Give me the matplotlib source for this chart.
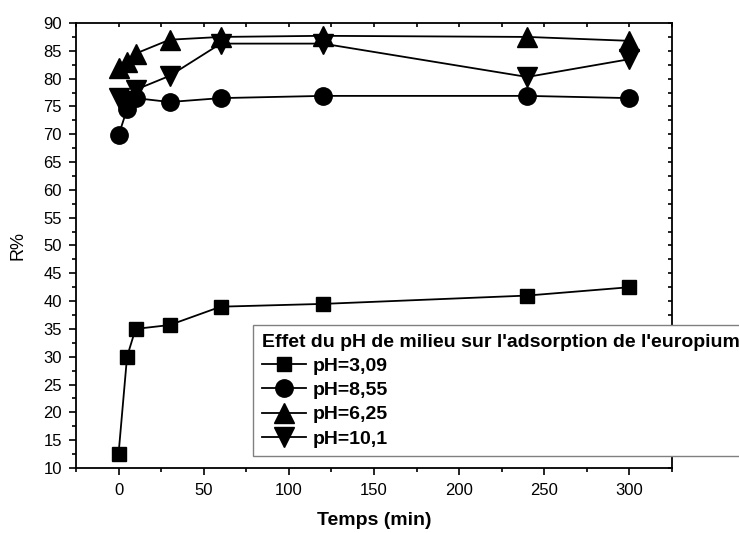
import matplotlib.pyplot as plt
from matplotlib.ticker import MultipleLocator

plt.rcParams['font.family'] = ['Liberation Sans', 'DejaVu Sans']

# time (min) and R% for each pH
temps = [0, 5, 10, 30, 60, 120, 240, 300]
r_ph309 = [12.5, 30.0, 35.0, 35.7, 39.0, 39.5, 41.0, 42.5]
r_ph855 = [69.8, 74.5, 76.5, 75.8, 76.5, 76.9, 76.9, 76.5]
r_ph625 = [82.0, 83.0, 84.5, 87.0, 87.5, 87.7, 87.5, 86.8]
r_ph101 = [76.5, 76.0, 78.0, 80.5, 86.3, 86.3, 80.3, 83.5]

labels = ['pH=3,09', 'pH=8,55', 'pH=6,25', 'pH=10,1']
markers = ['s', 'o', '^', 'v']
msizes = [10.5, 12.5, 15, 15]

fig = plt.figure(figsize=(7.39, 5.33), dpi=100)
ax = fig.add_axes([0.1028, 0.122, 0.8065, 0.8348])

for vals, lab, m, ms in zip([r_ph309, r_ph855, r_ph625, r_ph101], labels, markers, msizes):
    ax.plot(temps, vals, color='black', lw=1.3, marker=m, markersize=ms, label=lab)

ax.set_xlim(-25, 325)
ax.set_ylim(10, 90)
ax.xaxis.set_major_locator(MultipleLocator(50))
ax.xaxis.set_minor_locator(MultipleLocator(25))
ax.yaxis.set_major_locator(MultipleLocator(5))
ax.yaxis.set_minor_locator(MultipleLocator(2.5))

ax.tick_params(which='both', top=True, right=True, labelsize=12, width=1.2)
ax.tick_params(which='major', direction='out', length=5, pad=5)
ax.tick_params(which='minor', direction='out', length=3)
ax.tick_params(axis='x', which='major', pad=6)
for s in ax.spines.values():
    s.set_linewidth(1.3)

# top/right ticks point inward (short)
for t in ax.xaxis.get_major_ticks() + ax.xaxis.get_minor_ticks():
    t.tick2line.set_marker(3)
    t.tick2line.set_markersize(3)
for t in ax.yaxis.get_major_ticks() + ax.yaxis.get_minor_ticks():
    t.tick2line.set_marker(0)
    t.tick2line.set_markersize(3)

ax.set_xlabel('Temps (min)', fontsize=14, fontweight='bold', labelpad=10)
ax.set_ylabel('R%', fontsize=13, labelpad=12)

leg = fig.legend(loc='upper left', bbox_to_anchor=(253 / 739, 1 - 325 / 533),
                 title="Effet du pH de milieu sur l'adsorption de l'europium",
                 prop={'weight': 'bold', 'size': 14}, fancybox=False,
                 edgecolor='gray', framealpha=1, handlelength=2.3, numpoints=1,
                 borderpad=0.45, labelspacing=0.34, handletextpad=0.3,
                 borderaxespad=0)
leg.get_title().set_fontweight('bold')
leg.get_title().set_fontsize(14)
leg._legend_box.align = 'left'

fig.savefig('out.png', dpi=100)
